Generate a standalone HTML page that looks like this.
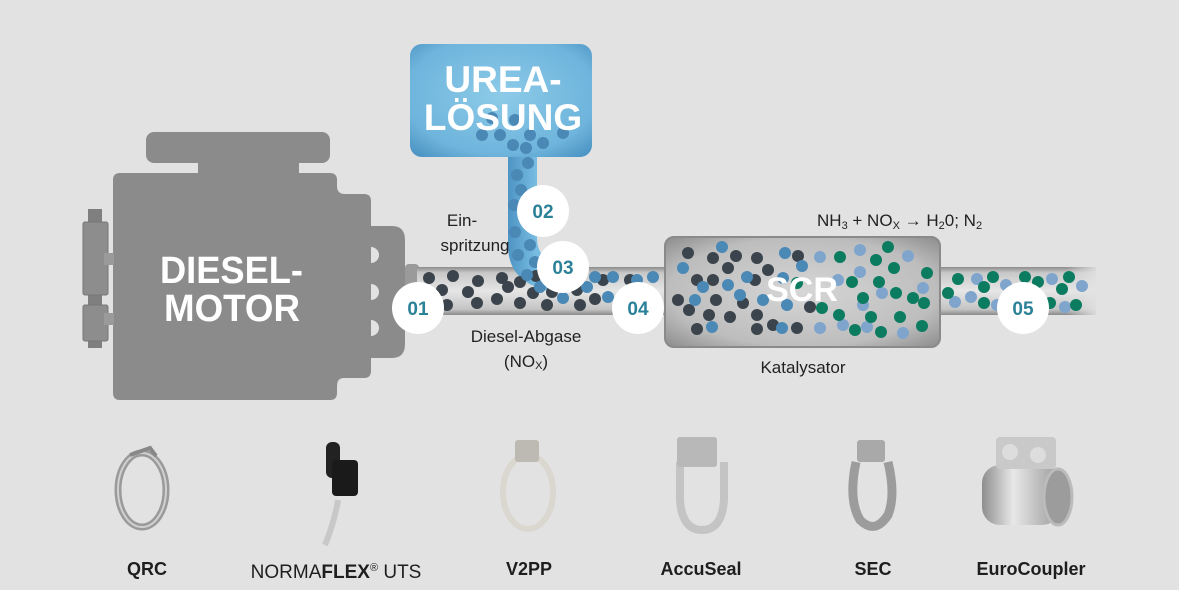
<!DOCTYPE html>
<html><head><meta charset="utf-8"><style>
html,body{margin:0;padding:0;background:#e3e2e3;}
svg{display:block;}
text{font-family:"Liberation Sans",sans-serif;}
</style></head><body>
<svg width="1179" height="590" viewBox="0 0 1179 590" xmlns="http://www.w3.org/2000/svg">
<defs>
<linearGradient id="pipe" x1="0" y1="0" x2="0" y2="1">
<stop offset="0" stop-color="#8c8c8c"/><stop offset="0.12" stop-color="#c8c8c8"/><stop offset="0.5" stop-color="#e6e6e6"/><stop offset="0.88" stop-color="#c4c4c4"/><stop offset="1" stop-color="#8a8a8a"/>
</linearGradient>
<linearGradient id="pipefade" x1="0" y1="0" x2="1" y2="0">
<stop offset="0" stop-color="#fff" stop-opacity="1"/><stop offset="0.8" stop-color="#fff" stop-opacity="1"/><stop offset="1" stop-color="#fff" stop-opacity="0"/>
</linearGradient>
<mask id="fm"><rect x="930" y="250" width="170" height="80" fill="url(#pipefade)"/></mask>
<radialGradient id="scr" cx="0.5" cy="0.5" r="0.7">
<stop offset="0" stop-color="#d6d6d6"/><stop offset="0.7" stop-color="#bdbdbd"/><stop offset="1" stop-color="#8d8d8d"/>
</radialGradient>
<radialGradient id="tank" cx="0.5" cy="0.45" r="0.7">
<stop offset="0" stop-color="#8dcbe8"/><stop offset="0.75" stop-color="#6eb4dc"/><stop offset="1" stop-color="#4d95c4"/>
</radialGradient>
<linearGradient id="stem" x1="0" y1="0" x2="1" y2="0">
<stop offset="0" stop-color="#4e94c4"/><stop offset="0.5" stop-color="#78bde2"/><stop offset="1" stop-color="#4e94c4"/>
</linearGradient>
<linearGradient id="metal" x1="0" y1="0" x2="1" y2="0">
<stop offset="0" stop-color="#8e8e8e"/><stop offset="0.4" stop-color="#e8e8e8"/><stop offset="1" stop-color="#9a9a9a"/>
</linearGradient>
</defs>

<!-- engine -->
<g fill="#8b8b8b">
<rect x="146" y="132" width="184" height="31" rx="8"/>
<rect x="198" y="158" width="101" height="20"/>
<path d="M113 180 Q113 173 120 173 L330 173 Q337 173 337 180 L337 186 Q337 194 345 194 L364 194 Q371 194 371 201 L371 371 Q371 378 364 378 L344 378 Q337 378 337 386 L337 393 Q337 400 330 400 L120 400 Q113 400 113 393 Z"/>
<path d="M371 226 L392 226 Q405 226 405 240 L405 344 Q405 358 392 358 L371 358 Z"/>
<rect x="88" y="209" width="14" height="139" fill="#7f7f7f"/>
<rect x="83" y="222" width="25" height="73" rx="2" fill="#8d8d8d" stroke="#777" stroke-width="1"/>
<rect x="83" y="305" width="25" height="36" rx="2" fill="#8d8d8d" stroke="#777" stroke-width="1"/>
<rect x="104" y="253" width="10" height="12" fill="#9a9a9a"/>
<rect x="104" y="313" width="10" height="12" fill="#9a9a9a"/>
</g>
<g fill="#e3e2e3">
<path d="M371 247 A8 8 0 0 1 371 263 Z"/>
<path d="M371 284 A8 8 0 0 1 371 300 Z"/>
<path d="M371 320 A8 8 0 0 1 371 336 Z"/>
</g>
<text x="160" y="283" font-size="38" font-weight="bold" fill="#fff" textLength="143" lengthAdjust="spacingAndGlyphs">DIESEL-</text>
<text x="164" y="321" font-size="38" font-weight="bold" fill="#fff" textLength="136" lengthAdjust="spacingAndGlyphs">MOTOR</text>

<!-- pipes -->
<rect x="405" y="264" width="14" height="50" rx="4" fill="#9a9a9a"/>
<rect x="417" y="267" width="250" height="48" fill="url(#pipe)"/>
<g mask="url(#fm)"><rect x="936" y="267" width="160" height="48" fill="url(#pipe)"/></g>
<rect x="665" y="237" width="275" height="110" rx="9" fill="url(#scr)" stroke="#8a8a8a" stroke-width="2"/>

<!-- urea tank & stem -->
<path d="M508 150 V245 Q508 284 552 291 L566 291 L566 268 Q537 262 537 238 V150 Z" fill="url(#stem)"/>
<rect x="410" y="44" width="182" height="113" rx="12" fill="url(#tank)"/>

<!-- particles pipe 1 -->
<g fill="#3b444c">
<circle cx="429" cy="278" r="6"/><circle cx="453" cy="276" r="6"/><circle cx="478" cy="281" r="6"/><circle cx="502" cy="278" r="6"/><circle cx="520" cy="282" r="6"/><circle cx="442" cy="290" r="6"/><circle cx="468" cy="292" r="6"/><circle cx="508" cy="287" r="6"/><circle cx="533" cy="293" r="6"/><circle cx="447" cy="305" r="6"/><circle cx="477" cy="303" r="6"/><circle cx="497" cy="299" r="6"/><circle cx="520" cy="303" r="6"/><circle cx="547" cy="305" r="6"/><circle cx="580" cy="305" r="6"/><circle cx="577" cy="290" r="6"/><circle cx="595" cy="299" r="6"/><circle cx="603" cy="280" r="6"/><circle cx="630" cy="280" r="6"/><circle cx="552" cy="292" r="6"/><circle cx="536" cy="276" r="6"/><circle cx="655" cy="298" r="6"/>
</g>
<g fill="#4a88b5">
<circle cx="563" cy="298" r="6"/><circle cx="595" cy="277" r="6"/><circle cx="613" cy="277" r="6"/><circle cx="608" cy="297" r="6"/><circle cx="587" cy="287" r="6"/><circle cx="637" cy="280" r="6"/><circle cx="653" cy="277" r="6"/><circle cx="540" cy="287" r="6"/>
<circle cx="482" cy="135" r="6"/><circle cx="500" cy="135" r="6"/><circle cx="515" cy="120" r="6"/><circle cx="530" cy="135" r="6"/><circle cx="543" cy="143" r="6"/><circle cx="563" cy="133" r="6"/><circle cx="513" cy="145" r="6"/><circle cx="526" cy="148" r="6"/><circle cx="492" cy="118" r="6"/><circle cx="528" cy="163" r="6"/>
<circle cx="517" cy="175" r="6"/><circle cx="521" cy="190" r="6"/><circle cx="514" cy="205" r="6"/><circle cx="527" cy="218" r="6"/><circle cx="515" cy="232" r="6"/><circle cx="530" cy="245" r="6"/><circle cx="518" cy="255" r="6"/><circle cx="535" cy="262" r="6"/><circle cx="527" cy="275" r="6"/>
</g>
<!-- SCR particles -->
<g fill="#3b444c">
<circle cx="688" cy="253" r="6"/><circle cx="713" cy="258" r="6"/><circle cx="736" cy="256" r="6"/><circle cx="757" cy="258" r="6"/><circle cx="798" cy="256" r="6"/><circle cx="728" cy="268" r="6"/><circle cx="697" cy="280" r="6"/><circle cx="713" cy="280" r="6"/><circle cx="755" cy="280" r="6"/><circle cx="768" cy="270" r="6"/><circle cx="678" cy="300" r="6"/><circle cx="716" cy="300" r="6"/><circle cx="743" cy="303" r="6"/><circle cx="689" cy="310" r="6"/><circle cx="709" cy="315" r="6"/><circle cx="730" cy="317" r="6"/><circle cx="757" cy="315" r="6"/><circle cx="697" cy="329" r="6"/><circle cx="757" cy="329" r="6"/><circle cx="773" cy="325" r="6"/><circle cx="797" cy="328" r="6"/><circle cx="810" cy="307" r="6"/>
</g>
<g fill="#4a88b5">
<circle cx="722" cy="247" r="6"/><circle cx="683" cy="268" r="6"/><circle cx="703" cy="287" r="6"/><circle cx="728" cy="285" r="6"/><circle cx="747" cy="277" r="6"/><circle cx="740" cy="295" r="6"/><circle cx="695" cy="300" r="6"/><circle cx="712" cy="327" r="6"/><circle cx="785" cy="253" r="6"/><circle cx="802" cy="266" r="6"/><circle cx="783" cy="278" r="6"/><circle cx="763" cy="300" r="6"/><circle cx="787" cy="305" r="6"/><circle cx="782" cy="328" r="6"/>
</g>
<g fill="#7fa5cc">
<circle cx="820" cy="257" r="6"/><circle cx="860" cy="250" r="6"/><circle cx="908" cy="256" r="6"/><circle cx="860" cy="272" r="6"/><circle cx="838" cy="280" r="6"/><circle cx="882" cy="293" r="6"/><circle cx="923" cy="288" r="6"/><circle cx="863" cy="305" r="6"/><circle cx="843" cy="325" r="6"/><circle cx="867" cy="327" r="6"/><circle cx="903" cy="333" r="6"/><circle cx="820" cy="328" r="6"/>
<circle cx="977" cy="279" r="6"/><circle cx="971" cy="297" r="6"/><circle cx="955" cy="302" r="6"/><circle cx="1006" cy="285" r="6"/><circle cx="1052" cy="279" r="6"/><circle cx="1082" cy="286" r="6"/><circle cx="1065" cy="307" r="6"/><circle cx="997" cy="305" r="6"/>
</g>
<g fill="#0c7c61">
<circle cx="840" cy="257" r="6"/><circle cx="876" cy="260" r="6"/><circle cx="888" cy="247" r="6"/><circle cx="894" cy="268" r="6"/><circle cx="927" cy="273" r="6"/><circle cx="852" cy="282" r="6"/><circle cx="879" cy="282" r="6"/><circle cx="896" cy="293" r="6"/><circle cx="913" cy="298" r="6"/><circle cx="924" cy="303" r="6"/><circle cx="863" cy="298" r="6"/><circle cx="822" cy="308" r="6"/><circle cx="839" cy="315" r="6"/><circle cx="871" cy="317" r="6"/><circle cx="900" cy="317" r="6"/><circle cx="855" cy="330" r="6"/><circle cx="881" cy="332" r="6"/><circle cx="922" cy="326" r="6"/><circle cx="797" cy="283" r="6"/>
<circle cx="958" cy="279" r="6"/><circle cx="948" cy="293" r="6"/><circle cx="984" cy="287" r="6"/><circle cx="993" cy="277" r="6"/><circle cx="1025" cy="277" r="6"/><circle cx="1038" cy="282" r="6"/><circle cx="1062" cy="289" r="6"/><circle cx="1069" cy="277" r="6"/><circle cx="984" cy="303" r="6"/><circle cx="1050" cy="303" r="6"/><circle cx="1076" cy="305" r="6"/>
</g>

<text x="503" y="92" font-size="37" font-weight="bold" fill="#fff" text-anchor="middle">UREA-</text>
<text x="503" y="130" font-size="37" font-weight="bold" fill="#fff" text-anchor="middle">LÖSUNG</text>
<text x="802" y="301" font-size="34" font-weight="bold" fill="#fff" text-anchor="middle">SCR</text>

<!-- numbered circles -->
<g fill="#fff">
<circle cx="418" cy="308" r="26"/><circle cx="543" cy="211" r="26"/><circle cx="563" cy="267" r="26"/><circle cx="638" cy="308" r="26"/><circle cx="1023" cy="308" r="26"/>
</g>
<g font-size="19" fill="#2b8197" text-anchor="middle" font-weight="bold">
<text x="418" y="315">01</text><text x="543" y="218">02</text><text x="563" y="274">03</text><text x="638" y="315">04</text><text x="1023" y="315">05</text>
</g>

<!-- labels -->
<g font-size="17" fill="#222">
<text x="462" y="226" text-anchor="middle">Ein-</text>
<text x="475" y="251" text-anchor="middle">spritzung</text>
<text x="526" y="342" text-anchor="middle">Diesel-Abgase</text>
<text x="526" y="367" text-anchor="middle">(NO<tspan font-size="11" dy="2">X</tspan><tspan dy="-2">)</tspan></text>
<text x="803" y="373" text-anchor="middle">Katalysator</text>
<text x="817" y="226">NH<tspan font-size="11" dy="3">3</tspan><tspan dy="-3"> + NO</tspan><tspan font-size="11" dy="3">X</tspan><tspan dy="-3"> → H</tspan><tspan font-size="11" dy="3">2</tspan><tspan dy="-3">0; N</tspan><tspan font-size="11" dy="3">2</tspan></text>
</g>

<!-- products -->
<ellipse cx="142" cy="490" rx="24" ry="37" fill="none" stroke="#9a9a9a" stroke-width="7"/>
<ellipse cx="142" cy="490" rx="24" ry="37" fill="none" stroke="#d0d0d0" stroke-width="2"/>
<path d="M130 455 L150 448 L156 456" fill="none" stroke="#888" stroke-width="4"/>
<path d="M338 500 Q335 520 325 545" fill="none" stroke="#c8c8c8" stroke-width="6"/>
<rect x="326" y="442" width="14" height="36" rx="6" fill="#222"/>
<rect x="332" y="460" width="26" height="36" rx="4" fill="#1a1a1a"/>
<ellipse cx="528" cy="492" rx="25" ry="37" fill="none" stroke="#d9d7cf" stroke-width="6"/>
<rect x="515" y="440" width="24" height="22" rx="3" fill="#bcbab2"/>
<path d="M680 462 L680 500 Q682 530 702 530 Q722 530 724 500 L724 462" fill="none" stroke="#c4c4c4" stroke-width="8"/>
<rect x="677" y="437" width="40" height="30" rx="3" fill="#b8b8b8"/>
<path d="M856 462 Q848 500 860 520 Q875 535 888 515 Q896 495 888 462" fill="none" stroke="#9c9c9c" stroke-width="9"/>
<rect x="857" y="440" width="28" height="22" rx="3" fill="#a9a9a9"/>
<rect x="982" y="465" width="78" height="60" rx="18" fill="url(#metal)"/>
<ellipse cx="1058" cy="497" rx="14" ry="28" fill="#9c9c9c" stroke="#bbb" stroke-width="3"/>
<rect x="996" y="437" width="60" height="32" rx="4" fill="#c9c9c9"/>
<circle cx="1010" cy="452" r="8" fill="#ddd"/><circle cx="1038" cy="455" r="8" fill="#ddd"/>

<g font-size="18" font-weight="bold" fill="#1e1e1e" text-anchor="middle">
<text x="147" y="575">QRC</text>
<text x="336" y="578" font-size="19" font-weight="normal">NORMA<tspan font-weight="bold">FLEX</tspan><tspan font-size="11" dy="-7">®</tspan><tspan dy="7"> UTS</tspan></text>
<text x="529" y="575">V2PP</text>
<text x="701" y="575">AccuSeal</text>
<text x="873" y="575">SEC</text>
<text x="1031" y="575">EuroCoupler</text>
</g>
</svg>
</body></html>
